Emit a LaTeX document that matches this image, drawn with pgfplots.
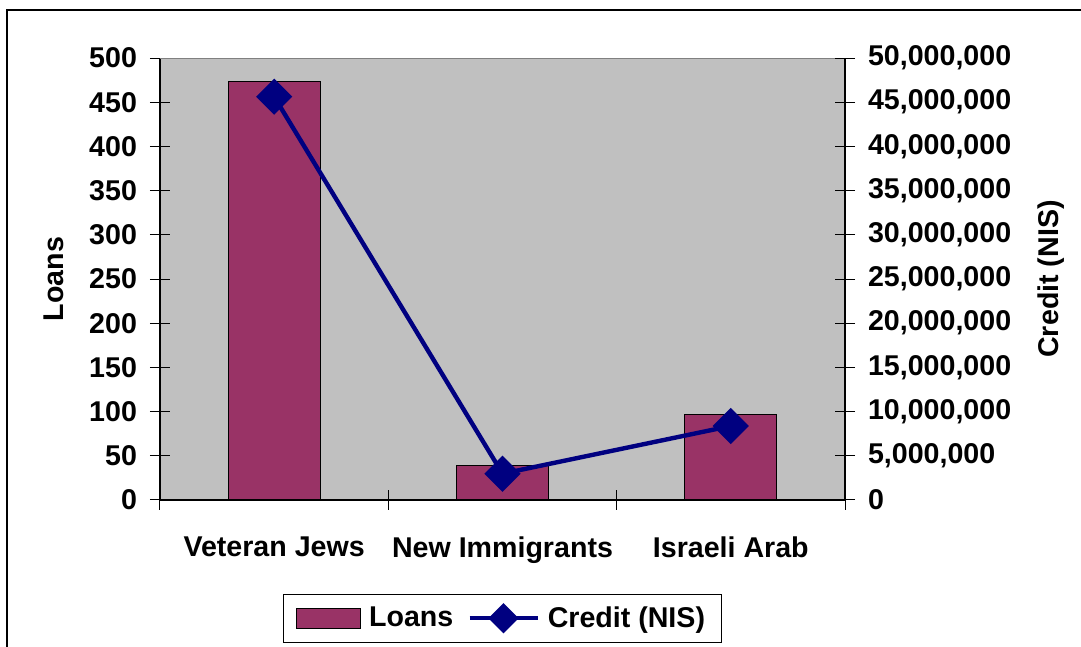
\documentclass[border=0pt]{standalone}
\usepackage{pgfplots}
\pgfplotsset{compat=1.18}
\usepackage{fontspec}
\setmainfont{Liberation Sans}
\definecolor{barc}{HTML}{993366}
\definecolor{navyc}{HTML}{000080}
\definecolor{bgc}{HTML}{C0C0C0}
\definecolor{edgec}{HTML}{808080}

\begin{document}
\begin{tikzpicture}[font=\fontsize{14.3}{17}\selectfont\bfseries]
\useasboundingbox (0,0) rectangle (540.5pt,323.5pt);
\draw[line width=1pt] (3.5pt,-10pt) -- (3.5pt,318.5pt) -- (560pt,318.5pt);
\pgfplotsset{
  common/.style={
    at={(80pt,73.5pt)}, anchor=south west,
    width=342.5pt, height=221pt, scale only axis,
    xmin=-0.5, xmax=2.5,
    tick align=center, major tick length=10pt,
    tick style={black, line width=0.5pt},
    axis line style={black, line width=0.6pt},
    every tick label/.append style={font=\fontsize{14.3}{17}\selectfont\bfseries},
    /pgf/number format/assume math mode=true,
  }
}
\begin{axis}[common,
  ymin=0, ymax=500,
  axis background/.style={fill=bgc},
  axis x line*=bottom, axis y line*=left,
  xtick={-0.5,0.5,1.5,2.5}, xticklabels={},
  extra x ticks={0,1,2},
  extra x tick labels={Veteran Jews,New Immigrants,Israeli Arab},
  extra x tick style={major tick length=0pt, xticklabel style={anchor=north, yshift=-15pt}},
  ytick={0,50,100,150,200,250,300,350,400,450,500},
  yticklabel style={anchor=east, xshift=-3pt},
  every axis y label/.style={at={(axis description cs:-0.1416,0.5)}, rotate=90, anchor=base},
  ylabel={Loans},
]
\addplot[ybar, bar width=46pt, fill=barc, draw=black, line width=0.6pt] coordinates {(0,473) (1,39) (2,97)};
\draw[edgec, line width=0.8pt] (rel axis cs:0,1) -- (rel axis cs:1,1);
\end{axis}
\begin{axis}[common,
  ymin=0, ymax=50000000,
  axis x line=none, axis y line*=right,
  ytick={0,5000000,10000000,15000000,20000000,25000000,30000000,35000000,40000000,45000000,50000000},
  scaled y ticks=false,
  yticklabel style={anchor=west, xshift=3pt, /pgf/number format/.cd, fixed, 1000 sep={,}},
  every axis y label/.style={at={(axis description cs:1.311,0.5)}, rotate=90, anchor=base},
  ylabel={Credit (NIS)},
  legend style={at={(0.5,-0.2125)}, anchor=north, legend columns=2, draw=black, line width=0.5pt, fill=white,
    font=\fontsize{14.3}{17}\selectfont\bfseries, inner xsep=6pt, inner ysep=4pt,
    /tikz/every odd column/.append style={column sep=2pt},
    /tikz/every even column/.append style={column sep=5pt}},
  legend cell align=left,
]
\addlegendimage{legend image code/.code={\draw[fill=barc, draw=black, line width=0.6pt] (0pt,-5pt) rectangle (32pt,5pt);}}
\addlegendentry{Loans}
\addplot[navyc, line width=2.2pt, mark=square*, mark size=5.3pt, mark options={rotate=45, solid},
  legend image code/.code={\draw[navyc, line width=2.2pt] (0pt,0pt) -- (34pt,0pt);
     \fill[navyc] (17pt,6pt) -- (23pt,0pt) -- (17pt,-6pt) -- (11pt,0pt) -- cycle;}]
  coordinates {(0,45620000) (1,2980000) (2,8370000)};
\addlegendentry{Credit (NIS)}
\end{axis}
\end{tikzpicture}
\end{document}
